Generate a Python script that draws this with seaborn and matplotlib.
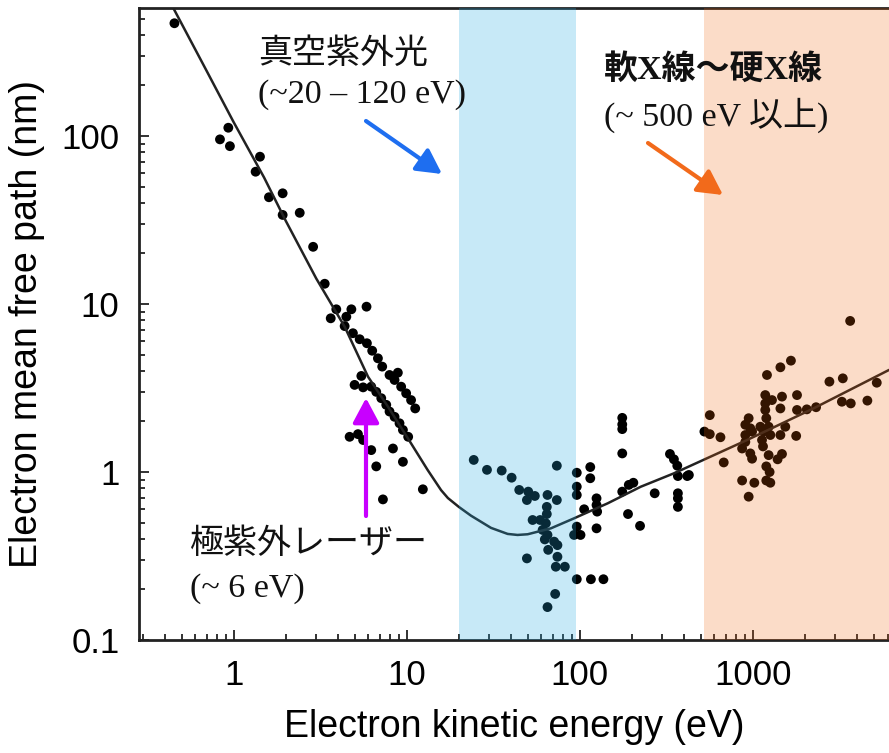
import matplotlib
matplotlib.use("Agg")
import matplotlib.pyplot as plt
import matplotlib.ticker as mticker
import seaborn as sns

# ---------------- data ----------------
energy_ev = [
    0.455, 0.834, 0.932, 0.952, 1.42, 1.34, 1.60, 1.92, 1.92, 2.41, 2.88, 3.36, 3.92, 4.79, 5.86, 3.64, 4.48,
    4.38, 4.89, 5.35, 5.89, 6.32, 6.82, 7.22, 7.96, 8.89, 8.51, 9.29, 9.93, 10.6, 11.2,
    5.47, 5.0, 5.6, 6.24, 6.67, 7.13, 7.62, 7.96, 8.51, 9.09, 9.51, 10.2,
    4.68, 5.23, 5.6, 6.24, 8.33, 6.67, 9.51, 7.29, 12.4, 24.4,
    29.1, 35.4, 40.4, 44.7, 50.4, 49.5, 55, 65.1, 73.7, 73.7, 64.5, 64.5, 53.4, 59, 63.7, 61, 65.1,
    62.8, 71.1, 74.3, 65.7, 49.5, 74.3, 72.7, 82, 72.1, 65.1,
    96.1, 96.1, 96.1, 115, 115, 106, 125, 125, 126, 125, 96.1, 92.7, 101, 96.1, 116, 137,
    176, 176, 192, 204, 190, 223, 271, 332, 350, 366, 369, 418, 369, 369, 369, 176, 176, 176,
    3650, 1207, 1443, 1660, 2770, 3310, 5200, 3270, 3680, 4590, 2050, 2320, 1800, 1800, 1474, 1443,
    1180, 1180, 1180, 1196, 1234, 1262, 1290, 1105, 1153, 1130, 1145, 1234, 1443, 1540, 1780, 1474,
    1390, 1196, 1250, 1196, 1262, 1020, 867, 946, 946, 905, 967, 905, 990, 905, 867, 967, 990,
    679, 650, 564, 525, 564, 427,
]
mfp_nm = [
    469, 95.5, 112, 87, 75.3, 61.3, 43.2, 45.6, 33.9, 34.9, 21.9, 13.2, 9.3, 9.3, 9.64, 8.22, 8.4,
    7.39, 6.70, 6.17, 5.84, 5.27, 4.75, 4.24, 3.78, 3.90, 3.53, 3.22, 2.94, 2.68, 2.39,
    3.73, 3.30, 3.19, 3.22, 3.0, 2.75, 2.51, 2.29, 2.13, 1.95, 1.78, 1.62,
    1.62, 1.68, 1.55, 1.35, 1.38, 1.08, 1.15, 0.687, 0.789, 1.18,
    1.03, 1.02, 0.925, 0.782, 0.764, 0.681, 0.72, 0.73, 1.09, 0.681, 0.62, 0.562, 0.518, 0.518, 0.495, 0.452, 0.422,
    0.397, 0.385, 0.367, 0.344, 0.306, 0.313, 0.273, 0.273, 0.188, 0.157,
    0.99, 0.818, 0.73, 1.07, 0.918, 0.6, 0.697, 0.636, 0.581, 0.462, 0.473, 0.422, 0.422, 0.23, 0.23, 0.23,
    1.29, 0.764, 0.838, 0.863, 0.562, 0.478, 0.747, 1.28, 1.19, 1.09, 0.946, 0.946, 0.747, 0.697, 0.62, 2.1, 1.92, 1.80,
    7.93, 3.78, 4.2, 4.6, 3.45, 3.61, 3.4, 2.62, 2.56, 2.66, 2.36, 2.43, 2.87, 2.34, 2.81, 2.39,
    2.87, 2.56, 2.34, 2.09, 1.86, 1.66, 2.68, 1.86, 1.74, 1.55, 1.42, 1.26, 1.66, 1.86, 1.64, 1.28,
    1.19, 1.08, 1.0, 0.89, 0.863, 0.863, 0.89, 0.713, 2.09, 1.91, 1.82, 1.66, 1.74, 1.51, 1.38, 1.29, 1.2,
    1.14, 1.61, 2.18, 1.74, 1.68, 0.96,
]

curve_ev = [0.449, 0.7, 1.0, 1.5, 2.0, 3.0, 4.38, 5.98, 7.79, 10.6, 13.2, 15.8, 17.3, 20.0, 23.5,
            30.7, 38.3, 43.7, 50, 68.1, 92.7, 145, 225, 350, 926, 2240, 6120]
curve_nm = [576, 243, 121, 56.6, 31.3, 14.2, 7.33, 3.69, 2.45, 1.48, 1.03, 0.78, 0.70, 0.62, 0.55,
            0.465, 0.428, 0.422, 0.426, 0.462, 0.53, 0.651, 0.817, 0.982, 1.55, 2.39, 4.05]

vuv_band = [20, 95]
xray_band = [520, 100000]

x_ticks = [1, 10, 100, 1000]
x_tick_labels = ["1", "10", "100", "1000"]
y_ticks = [0.1, 1, 10, 100]
y_tick_labels = ["0.1", "1", "10", "100"]

# ---------------- style ----------------
sns.set_theme(style="ticks")
plt.rcParams["font.family"] = ["Liberation Sans", "Noto Sans CJK JP", "DejaVu Sans"]

W, H = 889, 753
fig = plt.figure(figsize=(W / 100, H / 100), dpi=100)
ax = fig.add_axes([139 / W, (H - 640) / H, 1 - 139 / W, (640 - 8) / H])
ax.set_xscale("log")
ax.set_yscale("log")

sns.scatterplot(x=energy_ev, y=mfp_nm, color="black", s=50, edgecolor="none", ax=ax, zorder=2)
sns.lineplot(x=curve_ev, y=curve_nm, color="#222222", lw=1.8, ax=ax, zorder=2.5, estimator=None)

ax.axvspan(*vuv_band, color=(35 / 255, 171 / 255, 227 / 255), alpha=0.25, lw=0, zorder=3)
ax.axvspan(*xray_band, color=(241 / 255, 96 / 255, 5 / 255), alpha=0.22, lw=0, zorder=3)

ax.set_xlim(0.284, 6120)
ax.set_ylim(0.1, 578)

ax.xaxis.set_major_locator(mticker.FixedLocator(x_ticks))
ax.xaxis.set_major_formatter(mticker.FixedFormatter(x_tick_labels))
ax.yaxis.set_major_locator(mticker.FixedLocator(y_ticks))
ax.yaxis.set_major_formatter(mticker.FixedFormatter(y_tick_labels))
ax.xaxis.set_minor_locator(mticker.LogLocator(base=10, subs=range(2, 10), numticks=20))
ax.yaxis.set_minor_locator(mticker.LogLocator(base=10, subs=range(2, 10), numticks=20))
ax.xaxis.set_minor_formatter(mticker.NullFormatter())
ax.yaxis.set_minor_formatter(mticker.NullFormatter())

ax.tick_params(which="both", direction="in", color="#222222", width=1.3)
ax.tick_params(which="major", length=7, labelsize=25, labelcolor="black")
ax.tick_params(which="minor", length=4)
ax.tick_params(axis="x", which="major", pad=14)
ax.tick_params(axis="y", which="major", pad=14)

for side in ["left", "bottom", "top"]:
    ax.spines[side].set_visible(True)
    ax.spines[side].set_color("#222222")
    ax.spines[side].set_linewidth(2.0)
ax.spines["right"].set_visible(False)

ax.set_xlabel("Electron kinetic energy (eV)", fontsize=27, labelpad=12, color="black")
ax.set_ylabel("Electron mean free path (nm)", fontsize=27, labelpad=12, color="black")


def fp(px, py):
    return (px / W, 1 - py / H)


serif = ["Liberation Serif", "Noto Sans CJK JP"]
cjk = ["Noto Sans CJK JP", "Liberation Serif"]

texts = [
    ("真空紫外光", 258, 53, cjk, "normal"),
    ("(~20 – 120 eV)", 258, 95, serif, "normal"),
    ("軟X線〜硬X線", 604, 70, serif, "bold"),
    ("(~ 500 eV 以上)", 604, 115, serif, "normal"),
    ("極紫外レーザー", 190, 544, cjk, "normal"),
    ("(~ 6 eV)", 190, 589, serif, "normal"),
]
for s, px, py, fam, wt in texts:
    fig.text(*fp(px, py), s, ha="left", va="center", fontsize=24.5, family=fam,
             fontweight=wt, color="#111111", zorder=6)

arrows = [
    ((366, 121), (442, 174), "#1e6ef0"),
    ((648, 143), (723, 195), "#f26a1b"),
    ((366, 516), (366, 398), "#c800ff"),
]
for tail, tip, col in arrows:
    ax.annotate("", xy=fp(*tip), xytext=fp(*tail), xycoords="figure fraction",
                textcoords="figure fraction",
                arrowprops=dict(arrowstyle="-|>,head_length=0.75,head_width=0.4",
                                color=col, lw=3, mutation_scale=20,
                                shrinkA=0, shrinkB=0), zorder=6)

fig.savefig("out.png", dpi=100)
